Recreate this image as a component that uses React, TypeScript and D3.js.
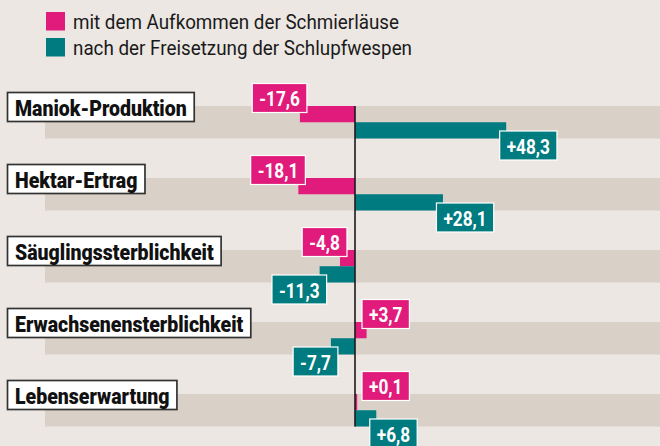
import React, { useEffect, useRef } from "react";
import * as d3 from "d3";

const categories = [
  "Maniok-Produktion",
  "Hektar-Ertrag",
  "Säuglingssterblichkeit",
  "Erwachsenensterblichkeit",
  "Lebenserwartung",
];
const seriesNames = [
  "mit dem Aufkommen der Schmierläuse",
  "nach der Freisetzung der Schlupfwespen",
];
const befall = [-17.6, -18.1, -4.8, 3.7, 0.1];
const nachFreisetzung = [48.3, 28.1, -11.3, -7.7, 6.8];

const W = 660;
const H = 446;
const PINK = "#e01b7b";
const TEAL = "#007b80";
const BG = "#ece7e3";
const BAND = "#d9d0c7";
const FONT = "Roboto, 'Liberation Sans', Arial, sans-serif";

const locale = d3.formatLocale({
  decimal: ",",
  thousands: ".",
  grouping: [3],
  currency: ["", "€"],
  minus: "-",
});
const fmt = locale.format("+.1f");

export default function App() {
  const ref = useRef<SVGSVGElement>(null);

  useEffect(() => {
    const svg = d3.select(ref.current);
    svg.selectAll("*").remove();

    const x = d3.scaleLinear().domain([-100, 100]).range([42, 668]);
    const y = d3
      .scaleBand<string>()
      .domain(categories)
      .range([106, 426.5])
      .paddingInner(0.5486)
      .paddingOuter(0);
    const bw = y.bandwidth();

    svg.append("rect").attr("width", W).attr("height", H).attr("fill", BG);

    // legend
    const legend = svg.append("g");
    const legendColors = [PINK, TEAL];
    const legendLen = [326, 339];
    seriesNames.forEach((name, i) => {
      legend
        .append("rect")
        .attr("x", 46)
        .attr("y", 12 + i * 26)
        .attr("width", 19)
        .attr("height", 18.5)
        .attr("fill", legendColors[i]);
      legend
        .append("text")
        .attr("x", 73)
        .attr("y", 29 + i * 25.5)
        .attr("font-family", FONT)
        .attr("font-size", 20.5)
        .attr("fill", "#1a1a1a")
        .attr("textLength", legendLen[i])
        .attr("lengthAdjust", "spacingAndGlyphs")
        .text(name);
    });

    // bands
    svg
      .append("g")
      .selectAll("rect")
      .data(categories)
      .join("rect")
      .attr("x", 45)
      .attr("y", (d) => y(d)!)
      .attr("width", W - 45)
      .attr("height", bw)
      .attr("fill", BAND);

    const series = [
      { values: befall, color: PINK, off: 0 },
      { values: nachFreisetzung, color: TEAL, off: bw / 2 },
    ];

    // bars
    series.forEach((s) => {
      svg
        .append("g")
        .selectAll("rect")
        .data(s.values)
        .join("rect")
        .attr("x", (v) => Math.min(x(0), x(v)))
        .attr("y", (_, i) => y(categories[i])! + s.off)
        .attr("width", (v) => Math.max(Math.abs(x(v) - x(0)), 2.2))
        .attr("height", bw / 2)
        .attr("fill", s.color);
    });

    // zero line
    svg
      .append("line")
      .attr("x1", x(0))
      .attr("x2", x(0))
      .attr("y1", 106)
      .attr("y2", 426.5)
      .attr("stroke", "#1a1a1a")
      .attr("stroke-width", 1.6);

    // category labels
    const catG = svg.append("g");
    categories.forEach((c) => {
      const top = y(c)!;
      const g = catG.append("g");
      const box = g.append("rect");
      const t = g
        .append("text")
        .attr("x", 15)
        .attr("y", top + 10)
        .attr("font-family", FONT)
        .attr("font-weight", 900)
        .attr("font-size", 22)
        .attr("fill", "#111")
        .text(c);
      const natural = (t.node() as SVGTextElement).getComputedTextLength();
      const tw = natural * 0.887;
      t.attr("textLength", tw).attr("lengthAdjust", "spacingAndGlyphs");
      box
        .attr("x", 7.5)
        .attr("y", top - 13.5)
        .attr("width", tw + 15)
        .attr("height", 29)
        .attr("fill", "#fff")
        .attr("stroke", "#333")
        .attr("stroke-width", 1.7);
    });

    // value labels
    const valG = svg.append("g");
    series.forEach((s, si) => {
      s.values.forEach((v, i) => {
        const top = y(categories[i])!;
        const label = fmt(v);
        const g = valG.append("g");
        const box = g.append("rect");
        const t = g
          .append("text")
          .attr("font-family", FONT)
          .attr("font-weight", 700)
          .attr("font-size", 21)
          .attr("fill", "#fff")
          .attr("text-anchor", "start")
          .text(label);
        const natural = (t.node() as SVGTextElement).getComputedTextLength();
        const tw = natural * 0.82;
        t.attr("textLength", tw).attr("lengthAdjust", "spacingAndGlyphs");
        const boxW = tw + 14;
        const boxH = 29;
        const end = x(v);
        let bx: number;
        if (v < 0) {
          const right = Math.min(end + 7, x(0) - 8);
          bx = right - boxW;
        } else {
          bx = Math.max(end - 6.5, x(0) + 7);
        }
        const by = si === 0 ? top - 22.5 : top + bw - 7.5;
        box
          .attr("x", bx)
          .attr("y", by)
          .attr("width", boxW)
          .attr("height", boxH)
          .attr("fill", s.color)
          .attr("stroke", "#fff")
          .attr("stroke-width", 1.2);
        t.attr("x", bx + 7).attr("y", by + 22.8);
      });
    });
  }, []);

  return (
    <svg
      ref={ref}
      width={W}
      height={H}
      style={{ position: "absolute", left: 0, top: 0, display: "block" }}
    />
  );
}
